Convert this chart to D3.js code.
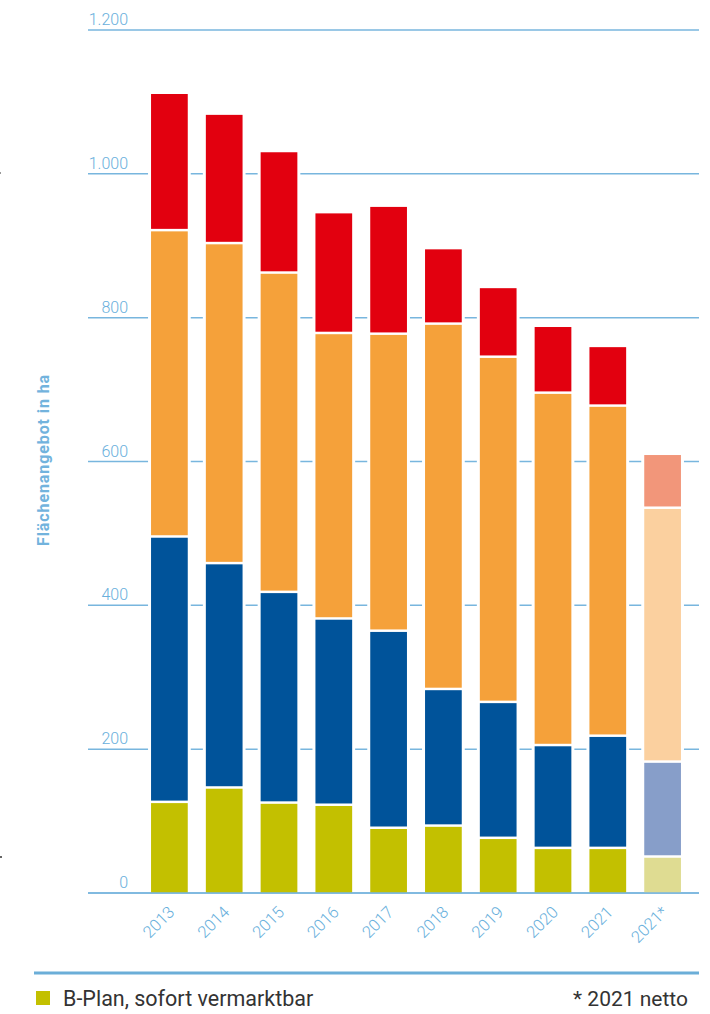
<!DOCTYPE html>
<html lang="de">
<head>
<meta charset="utf-8">
<title>Flächenangebot</title>
<style>
  body { margin: 0; background: #fff; }
  .axis-label { font-family: Roboto, sans-serif; font-weight: 300; fill: #68afdc; }
  .legend { font-family: Roboto, sans-serif; fill: #333; }
</style>
</head>
<body>
<svg class="chart" width="710" height="1014"></svg>
<script src="https://d3js.org/d3.v7.min.js"></script>
<script>
// data (ha), stacked bottom -> top
var years    = ['2013','2014','2015','2016','2017','2018','2019','2020','2021','2021*'];
var bplan    = [125, 145, 124, 121,  89,  92,  75,  61,  61,  49];
var blue     = [369, 312, 293, 259, 274, 190, 189, 143, 156, 132];
var orange   = [426, 445, 444, 397, 413, 508, 480, 490, 459, 353];
var red      = [191, 180, 169, 168, 178, 105,  97,  93,  83,  75];
var yTicks   = [0, 200, 400, 600, 800, 1000, 1200];
var keys     = ['bplan', 'blue', 'orange', 'red'];

var colors   = {bplan: '#c3c000', blue: '#00539a', orange: '#f5a13a', red: '#e2000f'};
var colorsNet = {bplan: '#dfdc92', blue: '#879ec9', orange: '#fbd09f', red: '#f2967a'};

var rows = years.map(function(y, i) {
    return {year: y, bplan: bplan[i], blue: blue[i], orange: orange[i], red: red[i]};
});

var svg = d3.select('.chart');
var gridLeft = 88, gridRight = 699;

var x = d3.scaleBand().domain(years).range([142, 690]).paddingInner(0.33).paddingOuter(0.165);
var y = d3.scaleLinear().domain([0, 1200]).range([893, 30]);

// gridlines
svg.append('g').selectAll('line')
    .data(yTicks)
    .join('line')
    .attr('x1', gridLeft).attr('x2', gridRight)
    .attr('y1', function(d) { return y(d); })
    .attr('y2', function(d) { return y(d); })
    .attr('stroke', '#78b6de')
    .attr('stroke-width', 1.5);

// y labels
svg.append('g').selectAll('text')
    .data(yTicks)
    .join('text')
    .attr('class', 'axis-label')
    .attr('x', 128)
    .attr('y', function(d) { return y(d) - 5; })
    .attr('text-anchor', 'end')
    .style('font-size', '16px')
    .text(function(d) { return d3.format(',')(d).replace(/,/g, '.'); });

// axis title
svg.append('text')
    .attr('transform', 'translate(49,460) rotate(-90)')
    .attr('text-anchor', 'middle')
    .style('font-family', 'Roboto, sans-serif')
    .style('font-weight', 700)
    .style('font-size', '16px')
    .style('letter-spacing', '0.9px')
    .style('fill', '#72b3dd')
    .text('Flächenangebot in ha');

// stacks
var series = d3.stack().keys(keys)(rows);

// white knock-out behind each bar
svg.append('g').selectAll('rect')
    .data(rows)
    .join('rect')
    .attr('x', function(d) { return x(d.year) - 3; })
    .attr('width', x.bandwidth() + 6)
    .attr('y', function(d) { return y(d.bplan + d.blue + d.orange + d.red) - 2; })
    .attr('height', function(d) { return y(0) - y(d.bplan + d.blue + d.orange + d.red) + 1; })
    .attr('fill', '#fff');

svg.append('g').selectAll('g')
    .data(series)
    .join('g')
    .selectAll('rect')
    .data(function(s) { return s.map(function(d) { d.key = s.key; return d; }); })
    .join('rect')
    .attr('x', function(d) { return x(d.data.year); })
    .attr('width', x.bandwidth())
    .attr('y', function(d) { return y(d[1]); })
    .attr('height', function(d) { return Math.max(0, y(d[0]) - y(d[1]) - (d.key === 'bplan' ? 0 : 2.5)); })
    .attr('fill', function(d) {
        return d.data.year === '2021*' ? colorsNet[d.key] : colors[d.key];
    });

// baseline on top
svg.append('line')
    .attr('x1', gridLeft).attr('x2', gridRight)
    .attr('y1', y(0)).attr('y2', y(0))
    .attr('stroke', '#78b6de')
    .attr('stroke-width', 1.5);

// x labels
svg.append('g').selectAll('text')
    .data(years)
    .join('text')
    .attr('class', 'axis-label')
    .attr('text-anchor', 'end')
    .attr('transform', function(d) {
        return 'translate(' + (x(d) + x.bandwidth() / 2 - 2) + ',' + 905 + ') rotate(-45)';
    })
    .attr('dy', '0.7em')
    .style('font-size', '16.5px')
    .text(function(d) { return d; });

// separator
svg.append('line')
    .attr('x1', 34).attr('x2', 699)
    .attr('y1', 973).attr('y2', 973)
    .attr('stroke', '#6baed8')
    .attr('stroke-width', 3);

// legend
svg.append('rect')
    .attr('x', 36).attr('y', 991)
    .attr('width', 14).attr('height', 14)
    .attr('fill', colors.bplan);

svg.append('text')
    .attr('class', 'legend')
    .attr('x', 63).attr('y', 1006)
    .style('font-size', '21.5px')
    .text('B-Plan, sofort vermarktbar');

svg.append('text')
    .attr('class', 'legend')
    .attr('x', 688).attr('y', 1006)
    .attr('text-anchor', 'end')
    .style('font-size', '21px')
    .text('* 2021 netto');

// small crop marks at left edge
svg.append('rect').attr('x', 0).attr('y', 172).attr('width', 1).attr('height', 2).attr('fill', '#999');
svg.append('rect').attr('x', 0).attr('y', 856).attr('width', 2).attr('height', 2).attr('fill', '#666');
</script>
</body>
</html>
